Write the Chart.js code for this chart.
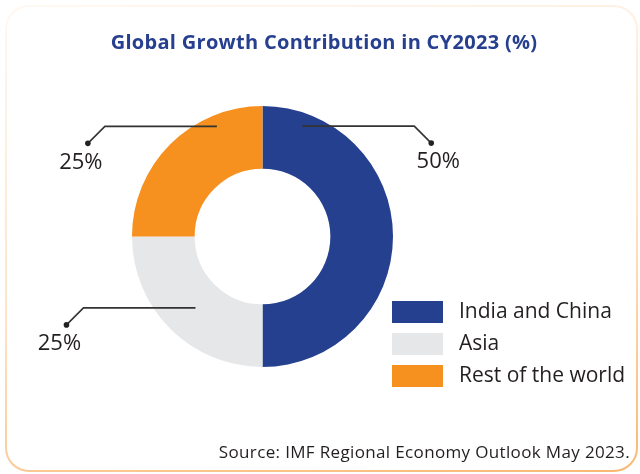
<!DOCTYPE html>
<html>
<head>
<meta charset="utf-8">
<script src="https://cdn.jsdelivr.net/npm/chart.js@4.4.0/dist/chart.umd.min.js"></script>
<style>
  html, body { margin: 0; padding: 0; background: #fff; }
  #wrap { position: relative; width: 640px; height: 474px; overflow: hidden; font-family: "Open Sans", Lato, sans-serif; }
  #card {
    position: absolute; left: 5px; top: 5px; width: 633px; height: 467px;
    border-radius: 24px; padding: 2px; box-sizing: border-box;
    background: linear-gradient(170deg, #fff8f2 0%, #fde3c8 55%, #f8b872 100%);
  }
  #card > div { width: 100%; height: 100%; background: #fff; border-radius: 22px; }
  #title {
    position: absolute; left: 0; width: 648px; top: 28px; text-align: center;
    font-weight: 700; font-size: 20px; letter-spacing: 0.3px; color: #263f8f; line-height: 28px;
  }
  #source {
    position: absolute; right: 10px; top: 440px; font-size: 17px; letter-spacing: 0.35px; color: #231f20; line-height: 24px;
  }
  canvas { position: absolute; left: 0; top: 0; }
</style>
</head>
<body>
<div id="wrap">
  <div id="card"><div></div></div>
  <canvas id="chart" width="640" height="474"></canvas>
  <div id="title">Global Growth Contribution in CY2023 (%)</div>
  <div id="source">Source: IMF Regional Economy Outlook May 2023.</div>
</div>
<script>
// 数据
const categories = ['India and China', 'Asia', 'Rest of the world']
const shares = [50, 25, 25]
const colors = ['#25408f', '#e6e7e8', '#f6901f']

// 引线起点: 在扇区内的角度比例 / 半径比例, 方向
const leaders = [
  { t: 0.11, r: 0.79, dir: 1 },
  { t: 0.48, r: 0.48, dir: -1 },
  { t: 0.75, r: 0.82, dir: -1 }
]

const FONT = '"Open Sans", Lato, sans-serif'

const leaderPlugin = {
  id: 'leaders',
  afterDatasetsDraw(chart) {
    const ctx = chart.ctx
    const meta = chart.getDatasetMeta(0)
    ctx.save()
    meta.data.forEach((arc, i) => {
      const p = arc.getProps(['x', 'y', 'startAngle', 'endAngle', 'innerRadius', 'outerRadius'], true)
      const l = leaders[i]
      const a = p.startAngle + l.t * (p.endAngle - p.startAngle)
      const rad = p.innerRadius + l.r * (p.outerRadius - p.innerRadius)
      const sx = p.x + Math.cos(a) * rad
      const sy = p.y + Math.sin(a) * rad
      const ex = sx + l.dir * 112
      const dx = ex + l.dir * 17
      const dy = sy + 17
      ctx.strokeStyle = '#333'
      ctx.lineWidth = 1.6
      ctx.beginPath()
      ctx.moveTo(sx, sy)
      ctx.lineTo(ex, sy)
      ctx.lineTo(dx, dy)
      ctx.stroke()
      ctx.fillStyle = '#222'
      ctx.beginPath()
      ctx.arc(dx, dy, 2.8, 0, Math.PI * 2)
      ctx.fill()
      ctx.font = '22px ' + FONT
      ctx.textAlign = 'center'
      ctx.textBaseline = 'middle'
      ctx.fillStyle = '#231f20'
      ctx.fillText(shares[i] + '%', dx + l.dir * 7, dy + 19)
    })
    ctx.restore()
  }
}

const legendPlugin = {
  id: 'sideLegend',
  afterDraw(chart) {
    const ctx = chart.ctx
    ctx.save()
    chart.data.labels.forEach((label, i) => {
      const cy = 312 + i * 32
      ctx.fillStyle = chart.data.datasets[0].backgroundColor[i]
      ctx.fillRect(392, cy - 11, 51, 22)
      ctx.fillStyle = '#231f20'
      ctx.font = '21px ' + FONT
      ctx.textAlign = 'left'
      ctx.textBaseline = 'middle'
      ctx.fillText(label, 459, cy)
    })
    ctx.restore()
  }
}

const chart = new Chart(document.getElementById('chart').getContext('2d'), {
  type: 'doughnut',
  data: {
    labels: categories,
    datasets: [{
      data: shares,
      backgroundColor: colors,
      borderWidth: 0
    }]
  },
  options: {
    responsive: false,
    animation: false,
    cutout: '52%',
    layout: { padding: { left: 132, right: 247, top: 106, bottom: 107 } },
    plugins: {
      legend: { display: false },
      tooltip: { enabled: false }
    }
  },
  plugins: [leaderPlugin, legendPlugin]
})
</script>
</body>
</html>
